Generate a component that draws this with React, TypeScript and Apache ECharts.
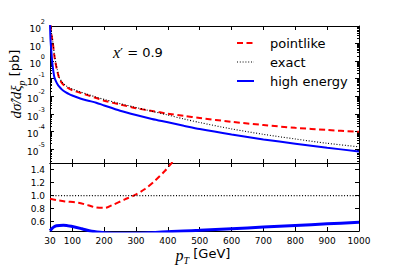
import React, { useEffect, useRef } from "react";
import * as echarts from "echarts";

// transverse momentum grid of the upper panel [GeV]
const PT = [30, 31, 32, 35, 38.5, 43.5, 48.8, 54, 59, 65, 70, 80, 90, 100, 125, 150, 175, 200, 250, 300, 350, 400, 450, 500, 600, 700, 800, 900, 1000];
// dσ̂/dξp [pb]
const POINTLIKE = [400, 180, 79, 28, 12.3, 2.1, 0.58, 0.22, 0.105, 0.066, 0.05, 0.035, 0.027, 0.022, 0.0158, 0.0112, 0.0079, 0.0056, 0.0034, 0.0021, 0.00145, 0.00102, 7.6e-4, 5.8e-4, 3.5e-4, 2.3e-4, 1.6e-4, 1.2e-4, 9.5e-5];
const EXACT = [500, 220, 100, 35, 14, 2.6, 0.71, 0.26, 0.12, 0.076, 0.058, 0.04, 0.032, 0.026, 0.0178, 0.0126, 0.0089, 0.0066, 0.0038, 0.0023, 0.0014, 8.5e-4, 5.1e-4, 3.2e-4, 1.38e-4, 6.8e-5, 3.7e-5, 2.1e-5, 1.32e-5];
const HIGH_ENERGY = [200, 32, 12.6, 2.4, 0.5, 0.126, 0.071, 0.047, 0.035, 0.027, 0.022, 0.0166, 0.0132, 0.011, 0.0074, 0.0056, 0.0043, 0.003, 0.0015, 8.5e-4, 5.1e-4, 3.3e-4, 2.1e-4, 1.35e-4, 6.6e-5, 3.5e-5, 2.0e-5, 1.17e-5, 7.2e-6];

// ratio panel (to exact)
const RATIO_PT_POINTLIKE = [30, 50, 77, 119, 150, 171, 203, 224, 265, 297, 328, 360, 391, 405, 430];
const RATIO_POINTLIKE = [0.95, 0.93, 0.91, 0.89, 0.85, 0.82, 0.81, 0.85, 0.94, 1.01, 1.1, 1.23, 1.38, 1.46, 1.6];
const RATIO_PT_EXACT = [30, 1000];
const RATIO_EXACT = [1, 1];
const RATIO_PT_HIGH = [30, 40, 50, 72, 100, 130, 161, 200, 250, 300, 350, 412, 450, 500, 600, 700, 800, 900, 1000];
const RATIO_HIGH = [0.46, 0.51, 0.535, 0.545, 0.525, 0.49, 0.45, 0.43, 0.42, 0.42, 0.43, 0.447, 0.455, 0.465, 0.49, 0.515, 0.54, 0.565, 0.59];

// ticks
const X_TICKS = [30, 100, 200, 300, 400, 500, 600, 700, 800, 900, 1000];
const Y_DECADES = [-5, -4, -3, -2, -1, 0, 1, 2];
const RATIO_TICKS = [0.6, 0.8, 1.0, 1.2, 1.4];
const LEGEND_NAMES = ["pointlike", "exact", "high energy"];
const ANNOTATION = "0.9";

const SANS = "DejaVu Sans";
const MATH = "Liberation Serif";

const Y_MIN = -5.8;
const Y_MAX = 2;

const minorTicks: number[] = [];
for (let n = -6; n <= 1; n++) {
  for (let k = 2; k <= 9; k++) {
    const v = n + Math.log10(k);
    if (v > Y_MIN && v < Y_MAX) minorTicks.push(v);
  }
}

const G0 = { left: 50, top: 26, width: 309, height: 137 };
const G1 = { left: 50, top: 163, width: 309, height: 68 };

const line = { show: true, onZero: false, lineStyle: { color: "#000", width: 1 } };

function xAx(grid: number, position: string, labels: boolean) {
  return {
    type: "value",
    gridIndex: grid,
    position,
    min: 30,
    max: 1000,
    axisLine: line,
    axisTick: { show: true, inside: true, length: 4, customValues: X_TICKS, lineStyle: { color: "#000", width: 1 } },
    axisLabel: labels
      ? { show: true, customValues: X_TICKS, fontSize: 9, color: "#000", margin: 5, fontFamily: SANS, hideOverlap: false, formatter: (v: number) => String(Math.round(v)) }
      : { show: false },
    splitLine: { show: false },
  };
}

function yAx(grid: number, position: string, min: number, max: number, ticks: number[], len: number, showLine: boolean, label: any) {
  return {
    type: "value",
    gridIndex: grid,
    position,
    offset: 0,
    min,
    max,
    axisLine: showLine ? line : { show: false, onZero: false },
    axisTick: { show: true, inside: true, length: len, customValues: ticks, lineStyle: { color: "#000", width: 1 } },
    axisLabel: label || { show: false },
    splitLine: { show: false },
  };
}

const logLabel = {
  show: true,
  customValues: Y_DECADES,
  margin: 5,
  color: "#000",
  formatter: (v: number) => `{b|10}{s|${Math.round(v)}}`,
  rich: {
    b: { fontSize: 9, fontFamily: SANS, color: "#000", lineHeight: 15, verticalAlign: "bottom" },
    s: { fontSize: 6.5, fontFamily: SANS, color: "#000", lineHeight: 7, verticalAlign: "top" },
  },
};

const ratioLabel = {
  show: true,
  customValues: RATIO_TICKS,
  margin: 5,
  fontSize: 9,
  color: "#000",
  fontFamily: SANS,
  formatter: (v: number) => v.toFixed(1),
};

export default function App() {
  const ref = useRef<HTMLDivElement>(null);
  useEffect(() => {
    if (!ref.current) return;
    const chart = echarts.init(ref.current, null, { renderer: "svg" });
    const red = { color: "#ff0000", width: 2, type: [6, 3.5] };
    const dot = { color: "#000", width: 1.1, type: [1, 1.8] };
    const blue = { color: "#0000ff", width: 2, type: "solid" };
    const lg = (x: number[], y: number[], log: boolean) => x.map((v, i) => [v, log ? Math.log10(y[i]) : y[i]]);
    const mk = (name: string, xi: number, yi: number, data: any, ls: any) => ({
      name,
      type: "line",
      xAxisIndex: xi,
      yAxisIndex: yi,
      data,
      symbol: "none",
      showSymbol: false,
      smooth: 0.3,
      clip: true,
      lineStyle: ls,
      itemStyle: { color: ls.color },
      z: 3,
    });
    const legendY = [43, 62, 81];
    const legendStyles = [red, dot, blue];
    const graphic: any[] = [];
    LEGEND_NAMES.forEach((n, i) => {
      const st = legendStyles[i];
      graphic.push({
        type: "line",
        shape: { x1: 237, y1: legendY[i], x2: 254, y2: legendY[i] },
        style: { stroke: st.color, lineWidth: st.width, lineDash: Array.isArray(st.type) ? st.type : null },
      });
      graphic.push({
        type: "text",
        x: 270,
        y: legendY[i],
        style: { text: n, fontSize: 13, fontFamily: SANS, fill: "#000", align: "left", verticalAlign: "middle" },
      });
    });
    graphic.push({
      type: "text",
      x: 113,
      y: 52,
      style: {
        text: `{i|x}{n|′}{e| = }{n|${ANNOTATION}}`,
        align: "left",
        verticalAlign: "middle",
        rich: {
          i: { fontSize: 16, fontFamily: MATH, fontStyle: "italic", fill: "#000" },
          n: { fontSize: 13, fontFamily: SANS, fill: "#000" },
          e: { fontSize: 13, fontFamily: SANS, fill: "#000" },
        },
      },
    });
    graphic.push({
      type: "text",
      x: 17,
      y: 84,
      rotation: Math.PI / 2,
      style: {
        text: "{m|dσ̂/dξ}{p|p}{n| [pb]}",
        align: "center",
        verticalAlign: "middle",
        rich: {
          m: { fontSize: 15, fontFamily: MATH, fontStyle: "italic", fill: "#000", lineHeight: 18, verticalAlign: "top" },
          p: { fontSize: 10, fontFamily: MATH, fontStyle: "italic", fill: "#000", lineHeight: 9, verticalAlign: "bottom" },
          n: { fontSize: 13, fontFamily: SANS, fill: "#000", lineHeight: 18, verticalAlign: "top" },
        },
      },
    });
    graphic.push({
      type: "text",
      x: 203,
      y: 256,
      style: {
        text: "{m|p}{t|T}{n| [GeV]}",
        align: "center",
        verticalAlign: "middle",
        rich: {
          m: { fontSize: 16, fontFamily: MATH, fontStyle: "italic", fill: "#000", lineHeight: 18, verticalAlign: "top" },
          t: { fontSize: 10, fontFamily: MATH, fontStyle: "italic", fill: "#000", lineHeight: 9, verticalAlign: "bottom" },
          n: { fontSize: 13, fontFamily: SANS, fill: "#000", lineHeight: 18, verticalAlign: "top" },
        },
      },
    });
    chart.setOption({
      animation: false,
      backgroundColor: "#fff",
      grid: [
        { ...G0, containLabel: false },
        { ...G1, containLabel: false },
      ],
      xAxis: [xAx(0, "bottom", false), xAx(0, "top", false), xAx(1, "bottom", true), xAx(1, "top", false)],
      yAxis: [
        yAx(0, "left", Y_MIN, Y_MAX, Y_DECADES, 4, true, logLabel),
        yAx(0, "right", Y_MIN, Y_MAX, Y_DECADES, 4, true, null),
        yAx(0, "left", Y_MIN, Y_MAX, minorTicks, 2, false, null),
        yAx(0, "right", Y_MIN, Y_MAX, minorTicks, 2, false, null),
        yAx(1, "left", 0.455, 1.5, RATIO_TICKS, 4, true, ratioLabel),
        yAx(1, "right", 0.455, 1.5, RATIO_TICKS, 4, true, null),
      ],
      series: [
        mk(LEGEND_NAMES[0], 0, 0, lg(PT, POINTLIKE, true), red),
        mk(LEGEND_NAMES[1], 0, 0, lg(PT, EXACT, true), dot),
        mk(LEGEND_NAMES[2], 0, 0, lg(PT, HIGH_ENERGY, true), blue),
        mk("pointlike/exact", 2, 4, lg(RATIO_PT_POINTLIKE, RATIO_POINTLIKE, false), red),
        mk("exact/exact", 2, 4, lg(RATIO_PT_EXACT, RATIO_EXACT, false), { ...dot, width: 1.3 }),
        mk("high energy/exact", 2, 4, lg(RATIO_PT_HIGH, RATIO_HIGH, false), { ...blue, width: 3 }),
      ],
      graphic,
    });
    return () => chart.dispose();
  }, []);
  return <div ref={ref} style={{ width: 399, height: 266, position: "absolute", left: 0, top: 0 }} />;
}
